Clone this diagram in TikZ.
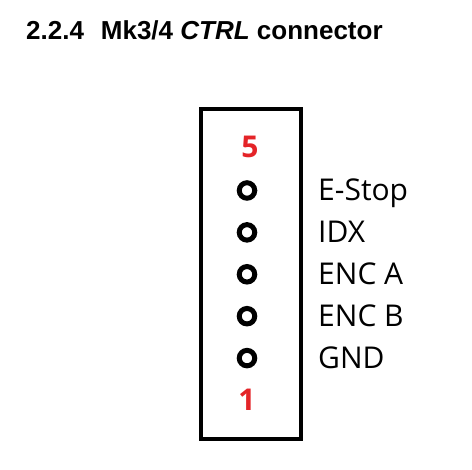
\documentclass[tikz,border=0pt]{standalone}
\usepackage{fontspec}
\setmainfont{Open Sans}
\newfontfamily\titlefont{Liberation Sans}
\usepackage{xcolor}
\usetikzlibrary{positioning}
\definecolor{pinred}{RGB}{228,36,40}
\tikzset{
        housing/.style={draw, line width=4.5pt},
        pinhole/.style={circle, draw, line width=5pt, minimum size=15.5pt, inner sep=0pt},
        pinlabel/.style={anchor=base west, inner sep=0pt, font=\fontsize{30}{34}\selectfont},
        pinnum/.style={inner sep=0pt, text=pinred, font=\fontsize{30}{34}\selectfont\bfseries},
        heading/.style={anchor=base west, inner sep=0pt, font=\titlefont\fontsize{26}{30}\selectfont\bfseries},
    }

\begin{document}
\begin{tikzpicture}[x=1pt, y=-1pt]
        \useasboundingbox (0,0) rectangle (472,470);

        % TITLE
        \node[heading] (title) at (26,40) {2.2.4\hspace{0.65em}Mk3/4 \textit{CTRL} connector};

        % HOUSING
        \draw[housing] (201,109) rectangle (301,439);

        % PIN NUMBERS
        \node[pinnum] (top) at (250,147) {5};
        \node[pinnum] (bottom) at (247,399.5) {1};

        % PINS
        \foreach \i/\name in {0/E-Stop, 1/IDX, 2/ENC A, 3/ENC B, 4/GND}{
            \node[pinhole] (pin\i) at (247,190.5+41.9*\i) {};
            \node[pinlabel] (lbl\i) at (318,190.5+41.9*\i+10.5) {\name};
        }

    \end{tikzpicture}
\end{document}
